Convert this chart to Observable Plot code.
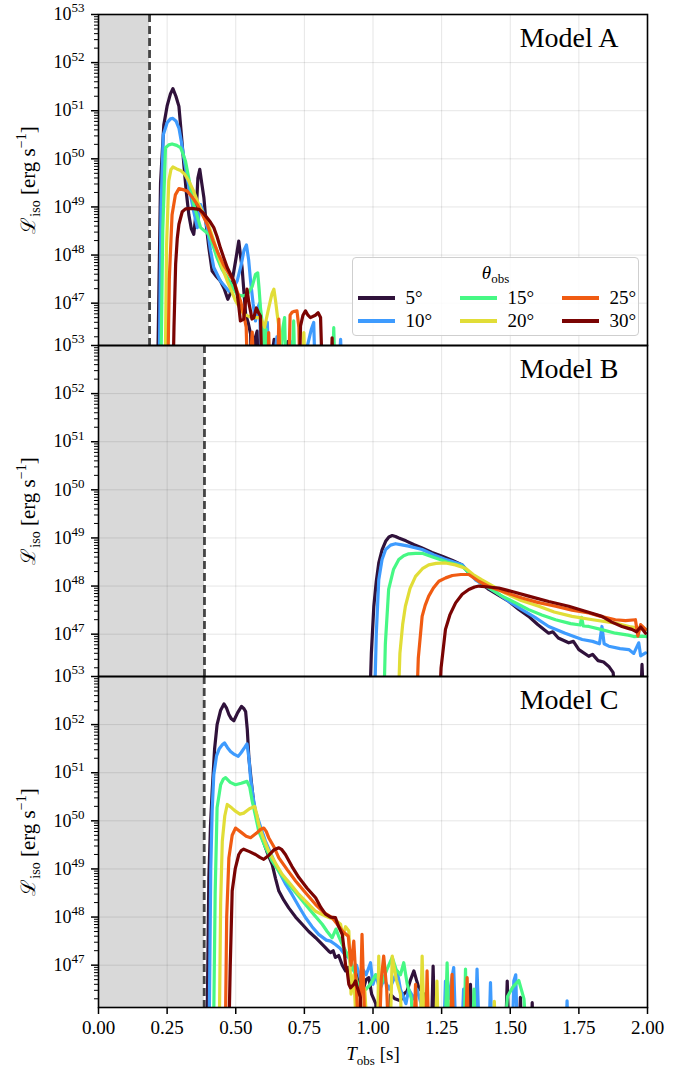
<!DOCTYPE html>
<html><head><meta charset="utf-8">
<script src="https://cdn.jsdelivr.net/npm/d3@7"></script>
<script src="https://cdn.jsdelivr.net/npm/@observablehq/plot@0.6"></script>
<style>
body{margin:0;background:#fff;font-family:"Liberation Serif",serif;}
#wrap{position:relative;width:692px;height:1072px;}
#wrap svg{position:absolute;left:0;top:0;overflow:visible;}
#wrap svg text{font-family:"Liberation Serif",serif;}
#legend{position:absolute;left:352px;top:257px;width:287px;height:79px;border:1.5px solid #cfcfcf;border-radius:4px;background:rgba(255,255,255,0.85);box-sizing:border-box;font-size:19px;color:#000;font-family:"Liberation Serif",serif;}
#legend .title{position:absolute;left:0;right:0;top:4px;text-align:center;}
#legend .sw{position:absolute;width:37px;height:4px;}
#legend .lb{position:absolute;line-height:19px;}
</style></head><body><div id="wrap"></div>
<script>
// ---------- data (T_obs [s], log10 L_iso) ----------
const models = ["A", "B", "C"];
const thetas = [5, 10, 15, 20, 25, 30];
const colors = ["#30123b", "#3e9bfe", "#46f884", "#e1dd37", "#f05b12", "#7a0403"];
const cutoffT = [0.186, 0.386, 0.385];
const xTicks = [0, 0.25, 0.5, 0.75, 1.0, 1.25, 1.5, 1.75, 2.0];
const yExpTicks = [47, 48, 49, 50, 51, 52, 53];
const yDomainExp = [46.12, 53];

const A05 = [[0.214,45],[0.226,49.5],[0.238,50.71],[0.25,51.1],[0.262,51.35],[0.271,51.46],[0.282,51.3],[0.293,51.09],[0.302,50.5],[0.311,49.88],[0.320,49.3],[0.329,48.84],[0.338,48.55],[0.347,48.43],[0.356,48.9],[0.362,49.6],[0.369,49.78],[0.376,49.5],[0.384,49.19],[0.393,48.6],[0.402,48.15],[0.414,47.67],[0.43,47.55],[0.444,47.46],[0.458,47.3],[0.471,47.08],[0.48,47.2],[0.487,47.46],[0.50,47.9],[0.511,48.29],[0.517,48.0],[0.523,47.74],[0.536,46.77],[0.545,46.6],[0.554,46.36],[0.56,45],[0.572,46.3],[0.578,46.42],[0.585,45],[0.60,46.2],[0.61,45],[0.64,46.25],[0.65,45],[0.69,46.2],[0.70,45]];
const A10 = [[0.220,45],[0.228,49.0],[0.236,50.50],[0.25,50.75],[0.262,50.83],[0.271,50.84],[0.283,50.78],[0.293,50.64],[0.302,50.35],[0.311,50.02],[0.323,49.6],[0.335,49.26],[0.347,48.9],[0.360,48.57],[0.366,48.85],[0.372,49.05],[0.384,48.85],[0.396,48.57],[0.408,48.1],[0.42,47.74],[0.432,47.6],[0.444,47.46],[0.46,47.35],[0.475,47.25],[0.49,47.3],[0.505,47.46],[0.52,47.8],[0.53,48.1],[0.539,48.21],[0.547,47.9],[0.554,47.46],[0.563,47.0],[0.572,46.63],[0.58,46.9],[0.587,47.0],[0.595,45],[0.605,46.4],[0.615,46.6],[0.625,45],[0.65,46.3],[0.66,45],[0.70,46.2],[0.715,45],[0.775,46.45],[0.784,46.6],[0.792,45],[0.87,45],[0.882,46.25],[0.89,45]];
const A15 = [[0.226,45],[0.234,48.5],[0.244,50.23],[0.256,50.29],[0.268,50.31],[0.285,50.28],[0.299,50.23],[0.308,50.1],[0.317,49.95],[0.332,49.5],[0.347,49.05],[0.36,48.8],[0.372,48.57],[0.387,48.5],[0.402,48.43],[0.417,48.2],[0.432,47.94],[0.45,47.7],[0.469,47.53],[0.487,47.35],[0.505,47.18],[0.525,47.15],[0.542,47.18],[0.56,47.35],[0.572,47.6],[0.580,47.63],[0.585,47.3],[0.590,46.91],[0.598,46.5],[0.603,45],[0.61,46.46],[0.618,45],[0.65,45],[0.672,46.5],[0.678,46.70],[0.685,45],[0.70,45],[0.711,46.63],[0.718,45],[0.85,45],[0.857,46.49],[0.864,45]];
const A20 = [[0.242,45],[0.248,48.2],[0.256,49.54],[0.264,49.78],[0.271,49.83],[0.285,49.79],[0.299,49.76],[0.314,49.68],[0.329,49.54],[0.345,49.35],[0.360,49.12],[0.378,48.9],[0.396,48.71],[0.414,48.4],[0.432,48.08],[0.45,47.75],[0.469,47.46],[0.485,47.25],[0.499,47.05],[0.515,46.9],[0.529,46.77],[0.55,46.72],[0.57,46.7],[0.590,46.70],[0.605,46.5],[0.62,46.9],[0.632,47.2],[0.639,47.29],[0.645,47.05],[0.651,46.77],[0.66,46.4],[0.665,45],[0.74,45],[0.748,46.39],[0.755,45]];
const A25 = [[0.251,45],[0.258,47.5],[0.268,48.84],[0.280,49.25],[0.293,49.38],[0.308,49.36],[0.323,49.33],[0.342,49.2],[0.360,49.05],[0.378,48.85],[0.396,48.64],[0.417,48.3],[0.438,48.01],[0.455,47.8],[0.469,47.67],[0.481,47.55],[0.493,47.46],[0.505,47.25],[0.517,47.05],[0.528,46.8],[0.538,46.5],[0.545,45],[0.56,46.4],[0.57,45],[0.615,45],[0.62,46.39],[0.627,45],[0.65,45],[0.657,46.67],[0.663,45],[0.69,45],[0.698,46.75],[0.705,46.81],[0.714,46.83],[0.723,46.84],[0.73,46.5],[0.735,45]];
const A30 = [[0.270,45],[0.275,46.5],[0.281,47.81],[0.287,48.35],[0.293,48.64],[0.305,48.9],[0.317,48.96],[0.340,48.97],[0.366,48.95],[0.381,48.88],[0.396,48.77],[0.408,48.68],[0.420,48.57],[0.432,48.38],[0.444,48.15],[0.456,47.95],[0.469,47.74],[0.481,47.6],[0.493,47.46],[0.505,47.2],[0.511,46.94],[0.517,46.63],[0.529,46.67],[0.535,47.0],[0.541,47.29],[0.548,47.0],[0.555,46.8],[0.559,46.67],[0.566,46.70],[0.575,46.9],[0.583,46.8],[0.590,46.73],[0.598,45],[0.73,45],[0.736,46.53],[0.745,46.75],[0.754,46.84],[0.763,46.75],[0.772,46.70],[0.79,46.75],[0.80,46.8],[0.809,46.70],[0.818,45],[0.845,45],[0.851,46.28],[0.856,45]];

const B05 = [[0.985,45],[0.994,46.6],[1.003,47.58],[1.012,48.1],[1.021,48.48],[1.033,48.75],[1.046,48.93],[1.058,49.02],[1.070,49.05],[1.082,49.03],[1.094,49.0],[1.12,48.94],[1.15,48.86],[1.179,48.79],[1.215,48.7],[1.252,48.62],[1.29,48.53],[1.325,48.44],[1.349,48.27],[1.385,48.1],[1.422,47.93],[1.46,47.8],[1.495,47.68],[1.53,47.52],[1.567,47.37],[1.60,47.2],[1.640,47.02],[1.655,47.05],[1.675,46.92],[1.713,46.82],[1.73,46.85],[1.75,46.68],[1.786,46.54],[1.80,46.58],[1.82,46.45],[1.84,46.42],[1.859,46.33],[1.875,46.2],[1.89,45],[1.97,45],[1.98,46.37],[1.99,45]];
const B10 = [[1.003,45],[1.012,47.0],[1.021,48.13],[1.033,48.55],[1.046,48.76],[1.064,48.85],[1.082,48.88],[1.10,48.86],[1.13,48.83],[1.179,48.76],[1.22,48.65],[1.26,48.56],[1.30,48.49],[1.325,48.44],[1.35,48.28],[1.373,48.13],[1.41,48.0],[1.446,47.88],[1.49,47.7],[1.543,47.51],[1.59,47.35],[1.640,47.16],[1.70,47.02],[1.762,46.89],[1.80,46.85],[1.825,46.8],[1.834,47.16],[1.842,46.8],[1.859,46.75],[1.90,46.7],[1.932,46.68],[1.95,46.6],[1.968,46.82],[1.975,46.55],[1.993,46.61]];
const B15 = [[1.037,45],[1.045,46.8],[1.057,47.93],[1.075,48.35],[1.094,48.55],[1.112,48.63],[1.130,48.67],[1.155,48.68],[1.179,48.68],[1.22,48.6],[1.27,48.5],[1.325,48.41],[1.36,48.22],[1.397,48.06],[1.434,47.92],[1.470,47.79],[1.52,47.65],[1.567,47.51],[1.615,47.4],[1.665,47.30],[1.72,47.22],[1.755,47.19],[1.76,47.35],[1.766,47.17],[1.786,47.16],[1.83,47.1],[1.883,47.02],[1.93,46.98],[1.95,46.95],[1.980,46.96],[2.0,46.95]];
const B20 = [[1.089,45],[1.098,46.6],[1.108,47.2],[1.118,47.58],[1.135,47.95],[1.155,48.2],[1.18,48.36],[1.203,48.44],[1.23,48.47],[1.264,48.48],[1.30,48.44],[1.337,48.37],[1.365,48.24],[1.397,48.13],[1.44,47.99],[1.483,47.85],[1.54,47.7],[1.604,47.58],[1.66,47.46],[1.725,47.37],[1.80,47.3],[1.883,47.23],[1.94,47.15],[1.993,47.1]];
const B25 = [[1.156,45],[1.165,46.5],[1.179,47.37],[1.19,47.6],[1.203,47.79],[1.22,47.96],[1.240,48.1],[1.265,48.17],[1.289,48.22],[1.32,48.24],[1.349,48.24],[1.385,48.1],[1.422,47.99],[1.48,47.87],[1.543,47.75],[1.60,47.66],[1.665,47.58],[1.725,47.5],[1.786,47.44],[1.83,47.37],[1.883,47.30],[1.92,47.28],[1.956,47.3],[1.965,46.96],[1.975,47.2],[1.993,47.1]];
const B30 = [[1.238,45],[1.248,46.3],[1.264,47.1],[1.28,47.4],[1.301,47.65],[1.325,47.83],[1.349,47.93],[1.37,47.98],[1.386,48.0],[1.42,47.98],[1.458,47.96],[1.51,47.88],[1.567,47.79],[1.64,47.68],[1.713,47.58],[1.77,47.48],[1.834,47.37],[1.87,47.25],[1.907,47.16],[1.93,47.12],[1.943,47.1],[1.96,47.05],[1.975,47.15],[1.993,47.02]];

const C05 = [[0.394,45],[0.402,48.8],[0.408,49.9],[0.414,50.61],[0.423,51.5],[0.432,52.0],[0.445,52.3],[0.457,52.43],[0.466,52.35],[0.475,52.21],[0.484,52.12],[0.493,52.08],[0.507,52.25],[0.521,52.38],[0.530,52.33],[0.536,52.27],[0.542,51.9],[0.548,51.30],[0.557,50.8],[0.566,50.34],[0.581,49.95],[0.596,49.65],[0.614,49.35],[0.633,49.09],[0.645,48.8],[0.657,48.54],[0.675,48.35],[0.693,48.19],[0.718,48.0],[0.742,47.85],[0.766,47.7],[0.791,47.57],[0.815,47.43],[0.839,47.29],[0.845,47.26],[0.855,47.3],[0.863,47.16],[0.875,47.2],[0.888,47.0],[0.9,46.88],[0.91,46.95],[0.918,46.67],[0.93,46.75],[0.943,46.81],[0.955,46.6],[0.966,46.53],[0.975,46.7],[0.985,46.74],[0.995,46.4],[1.01,46.2],[1.02,45],[1.05,45],[1.064,46.39],[1.08,46.3],[1.1,46.26],[1.112,46.4],[1.124,46.46],[1.137,46.7],[1.149,46.88],[1.158,46.7],[1.167,46.53],[1.185,46.4],[1.195,45],[1.21,45],[1.219,46.98],[1.228,45],[1.345,45],[1.355,46.6],[1.365,45],[1.48,45],[1.489,46.67],[1.498,45],[1.53,45],[1.537,46.33],[1.545,45],[1.575,45],[1.58,46.22],[1.585,45]];
const C10 = [[0.402,45],[0.409,49.0],[0.414,50.2],[0.42,50.96],[0.43,51.35],[0.44,51.5],[0.451,51.58],[0.459,51.62],[0.470,51.52],[0.481,51.44],[0.495,51.38],[0.509,51.34],[0.52,51.42],[0.532,51.52],[0.541,51.6],[0.548,51.3],[0.554,50.89],[0.563,50.5],[0.572,50.2],[0.59,49.88],[0.608,49.58],[0.633,49.25],[0.657,48.95],[0.68,48.7],[0.705,48.47],[0.73,48.22],[0.754,47.99],[0.778,47.8],[0.802,47.64],[0.83,47.52],[0.845,47.5],[0.863,47.43],[0.88,47.35],[0.9,47.2],[0.912,47.16],[0.925,46.9],[0.94,47.0],[0.955,46.7],[0.965,46.9],[0.975,46.8],[0.991,47.05],[1.0,46.6],[1.01,46.8],[1.025,46.5],[1.04,46.7],[1.06,46.5],[1.075,46.7],[1.088,46.88],[1.10,46.5],[1.12,46.2],[1.13,46.5],[1.15,46.3],[1.16,46.5],[1.175,46.2],[1.19,45],[1.255,45],[1.264,46.67],[1.275,46.3],[1.294,46.95],[1.305,45],[1.32,45],[1.33,46.5],[1.34,45],[1.37,45],[1.379,46.92],[1.39,45],[1.42,45],[1.428,46.64],[1.436,45],[1.505,45],[1.513,46.67],[1.52,46.8],[1.528,45],[1.70,45],[1.707,46.26],[1.714,45]];
const C15 = [[0.418,45],[0.425,48.5],[0.432,50.27],[0.445,50.75],[0.455,50.87],[0.463,50.9],[0.48,50.8],[0.499,50.75],[0.52,50.78],[0.541,50.82],[0.551,50.7],[0.560,50.41],[0.572,50.1],[0.584,49.78],[0.608,49.45],[0.633,49.16],[0.663,48.9],[0.693,48.68],[0.724,48.47],[0.754,48.26],[0.785,48.05],[0.815,47.85],[0.833,47.7],[0.851,47.57],[0.865,47.75],[0.875,47.6],[0.888,47.43],[0.9,47.3],[0.918,47.09],[0.93,46.9],[0.945,46.6],[0.96,46.45],[0.975,46.5],[0.99,46.6],[1.01,46.8],[1.03,46.6],[1.05,46.9],[1.07,47.16],[1.085,46.9],[1.1,46.8],[1.112,47.05],[1.125,46.6],[1.14,46.3],[1.15,45],[1.18,45],[1.19,46.2],[1.2,45],[1.26,45],[1.27,47.05],[1.28,45],[1.33,45],[1.337,46.92],[1.345,45],[1.36,45],[1.368,46.5],[1.376,45],[1.47,45],[1.49,46.35],[1.51,46.55],[1.531,46.68],[1.55,46.3],[1.565,45]];
const C20 = [[0.439,45],[0.445,48.3],[0.451,49.58],[0.46,50.1],[0.469,50.34],[0.485,50.27],[0.499,50.2],[0.515,50.14],[0.529,50.16],[0.55,50.25],[0.569,50.3],[0.576,50.15],[0.584,49.92],[0.60,49.65],[0.620,49.37],[0.645,49.12],[0.669,48.89],[0.70,48.68],[0.730,48.47],[0.76,48.3],[0.791,48.12],[0.815,48.05],[0.839,47.99],[0.86,47.95],[0.882,47.85],[0.89,47.6],[0.9,47.8],[0.912,47.71],[0.92,46.4],[0.93,46.8],[0.945,45],[0.96,45],[0.97,46.5],[0.985,45],[1.015,45],[1.021,47.19],[1.03,45],[1.06,45],[1.07,47.19],[1.085,46.7],[1.1,46.4],[1.11,45],[1.17,45],[1.179,47.19],[1.19,45],[1.225,45],[1.233,46.67],[1.24,45],[1.435,45],[1.442,46.25],[1.45,45]];
const C25 = [[0.461,45],[0.467,48.0],[0.475,49.23],[0.487,49.7],[0.499,49.85],[0.52,49.76],[0.538,49.68],[0.554,49.65],[0.575,49.74],[0.590,49.82],[0.602,49.85],[0.611,49.78],[0.620,49.65],[0.64,49.45],[0.657,49.23],[0.688,48.98],[0.718,48.75],[0.755,48.5],[0.791,48.26],[0.82,48.1],[0.851,47.99],[0.87,47.85],[0.888,47.71],[0.91,47.6],[0.92,47.0],[0.93,47.5],[0.94,46.5],[0.95,45],[0.955,46.5],[0.96,47.64],[0.966,46.5],[0.975,45],[1.02,45],[1.03,46.7],[1.039,47.19],[1.05,46.5],[1.06,45],[1.145,45],[1.155,46.6],[1.163,45],[1.19,45],[1.197,46.88],[1.205,45],[1.28,45],[1.288,46.81],[1.296,45],[1.335,45],[1.343,46.74],[1.35,45]];
const C30 = [[0.473,45],[0.48,47.0],[0.487,48.54],[0.498,49.0],[0.511,49.3],[0.52,49.38],[0.529,49.41],[0.55,49.36],[0.572,49.3],[0.588,49.24],[0.602,49.2],[0.62,49.28],[0.64,49.4],[0.657,49.44],[0.668,49.4],[0.681,49.3],[0.705,49.05],[0.730,48.82],[0.76,48.6],[0.791,48.40],[0.81,48.2],[0.827,48.06],[0.845,48.0],[0.863,47.99],[0.875,47.8],[0.888,47.64],[0.894,47.36],[0.9,47.0],[0.906,46.88],[0.912,46.6],[0.918,46.53],[0.93,46.6],[0.936,46.67],[0.945,46.5],[0.954,46.33],[0.96,45]];

const seriesA = [A05, A10, A15, A20, A25, A30];
const seriesB = [B05, B10, B15, B20, B25, B30];
const seriesC = [C05, C10, C15, C20, C25, C30];

// ---------- tables built from the arrays ----------
const seriesByModel = {A: seriesA, B: seriesB, C: seriesC};
const rows = models.flatMap(m => seriesByModel[m].flatMap((s, i) =>
  s.map(([t, e]) => ({model: m, theta: thetas[i], t, L: Math.pow(10, e)}))));
const cutRows = models.map((m, i) => ({model: m, start: 0, t: cutoffT[i]}));
const modelRows = models.map(m => ({model: m}));
const majorTicks = yExpTicks.map(e => Math.pow(10, e));
const minorTicks = [];
for (let e = 46; e < 53; e++) for (let k = 2; k <= 9; k++) {
  const v = k * Math.pow(10, e);
  if (v >= Math.pow(10, yDomainExp[0])) minorTicks.push(v);
}
const FONT = "Liberation Serif";
const YTOKEN = "YLABELTOKEN";

const svg = Plot.plot({
  width: 692, height: 1072,
  marginLeft: 98, marginRight: 45, marginTop: 13, marginBottom: 65,
  style: {fontFamily: FONT, fontSize: "19px", background: "white", color: "black"},
  x: {domain: [0, 2]},
  y: {type: "log", domain: yDomainExp.map(e => Math.pow(10, e))},
  fy: {domain: models, padding: 0, axis: null},
  color: {type: "ordinal", domain: thetas, range: colors},
  marks: [
    Plot.rect(cutRows, {x1: "start", x2: "t", fy: "model", fill: "#d9d9d9"}),
    Plot.gridX({ticks: xTicks, stroke: "#000", strokeOpacity: 0.1, strokeWidth: 1}),
    Plot.gridY({ticks: majorTicks, stroke: "#000", strokeOpacity: 0.1, strokeWidth: 1}),
    Plot.ruleX(cutRows, {x: "t", fy: "model", stroke: "#444444", strokeWidth: 2.8, strokeDasharray: "8,4"}),
    Plot.line(rows, {x: "t", y: "L", z: "theta", stroke: "theta", fy: "model", strokeWidth: 3.2, strokeLinejoin: "round", clip: true}),
    Plot.frame({stroke: "black", strokeWidth: 1.6}),
    Plot.axisY({ticks: minorTicks, tickSize: 4, tickFormat: () => "", label: null, strokeWidth: 1}),
    Plot.axisY({ticks: majorTicks, tickSize: 7, tickPadding: 7, fontSize: 18, fontFamily: FONT, label: null, strokeWidth: 1.5,
      tickFormat: d => String(Math.round(Math.log10(d)))}),
    Plot.axisX({ticks: xTicks, tickSize: 7, tickPadding: 6, fontSize: 19, fontFamily: FONT, strokeWidth: 1.5,
      tickFormat: d3.format(".2f"), label: "T", labelAnchor: "center", labelOffset: 52, labelArrow: "none"}),
    Plot.text(modelRows, {fy: "model", frameAnchor: "top-right", text: d => `Model ${d.model}`,
      dx: -29, dy: 13, fontSize: 28, fontFamily: FONT, lineAnchor: "top", textAnchor: "end"}),
    Plot.text(modelRows, {fy: "model", frameAnchor: "left", text: () => YTOKEN, rotate: -90,
      dx: -70, fontSize: 21, fontFamily: FONT, textAnchor: "middle"})
  ]
});

// rich text (superscripts / subscripts) for the library's own labels
const S = d3.select(svg);
S.selectAll('g[aria-label="y-axis tick label"] text').each(function () {
  const e = this.textContent;
  if (!e) return;
  const t = d3.select(this).text("");
  t.append("tspan").text("10");
  t.append("tspan").attr("dy", "-0.6em").attr("font-size", "13px").text(e);
});
S.selectAll('g[aria-label="x-axis label"] text').each(function () {
  const t = d3.select(this).text("");
  t.append("tspan").attr("font-style", "italic").text("T");
  t.append("tspan").attr("dy", "5").attr("font-size", "13px").text("obs");
  t.append("tspan").attr("dy", "-5").text(" [s]");
});
S.selectAll("text").filter(function () { return this.textContent === YTOKEN; }).each(function () {
  const t = d3.select(this).text("");
  t.append("tspan").attr("font-family", "'DejaVu Serif', serif").attr("font-size", "20px").text("ℒ");
  t.append("tspan").attr("dy", "5").attr("font-size", "14px").text("iso");
  t.append("tspan").attr("dy", "-5").text(" [erg s");
  t.append("tspan").attr("dy", "-9").attr("font-size", "14px").text("−1");
  t.append("tspan").attr("dy", "9").text("]");
});

const wrap = document.getElementById("wrap");
wrap.appendChild(svg);

// legend (inside panel A)
const lg = document.createElement("div");
lg.id = "legend";
let html = '<div class="title"><i>θ</i><sub style="font-size:13px;vertical-align:-4px">obs</sub></div>';
const colX = [4.5, 106.5, 208.5], rowY = [39.5, 62.5];
thetas.forEach((th, i) => {
  const c = Math.floor(i / 2), r = i % 2;
  html += `<div class="sw" style="left:${colX[c]}px;top:${rowY[r] - 2}px;background:${colors[i]}"></div>`;
  html += `<div class="lb" style="left:${colX[c] + 48}px;top:${rowY[r] - 10}px">${th}°</div>`;
});
lg.innerHTML = html;
wrap.appendChild(lg);
</script>
</body></html>
